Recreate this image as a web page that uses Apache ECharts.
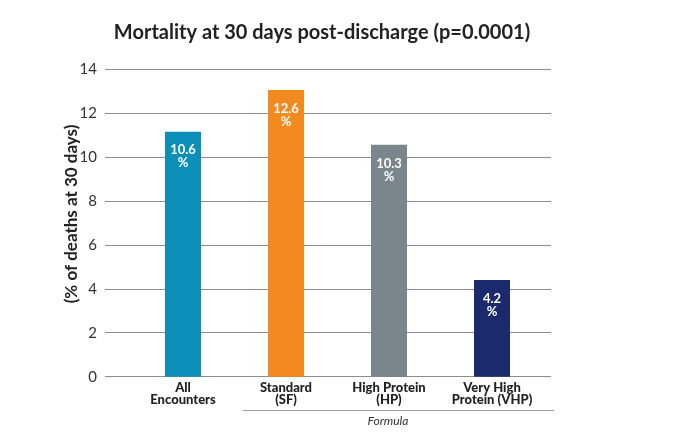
<!DOCTYPE html>
<html>
<head>
<meta charset="utf-8">
<script src="https://cdn.jsdelivr.net/npm/echarts@6/dist/echarts.min.js"></script>
<style>
  html, body { margin: 0; padding: 0; background: #fff; }
  #main { width: 675px; height: 436px; }
</style>
</head>
<body>
<div id="main"></div>
<script>
var categories = ['All\nEncounters', 'Standard\n(SF)', 'High Protein\n(HP)', 'Very High\nProtein (VHP)'];
// bar heights as drawn in the picture
var barHeights = [11.15, 13.05, 10.55, 4.4];
// values printed on the bars
var reported = [10.6, 12.6, 10.3, 4.2];
var barColors = ['#0b8fb9', '#f38a20', '#7a858c', '#1b2a6c'];
var yMin = 0, yMax = 14, yStep = 2;

var myChart = echarts.init(document.getElementById('main'));

var font = 'Lato, "Open Sans", sans-serif';

var option = {
    backgroundColor: '#fff',
    animation: false,
    title: {
        text: 'Mortality at 30 days post-discharge (p=0.0001)',
        left: 317,
        textAlign: 'center',
        top: 18,
        textStyle: { fontFamily: font, fontSize: 20, fontWeight: 'bold', color: '#222' }
    },
    grid: [
        { left: 131.5, right: 131.5, top: 69, bottom: 59.3 },
        { left: 105, right: 124, top: 69, bottom: 59.3 }
    ],
    xAxis: [
        {
            type: 'category',
            gridIndex: 0,
            data: categories,
            axisLine: { show: false },
            axisTick: { show: false },
            axisLabel: {
                interval: 0,
                hideOverlap: false,
                margin: 5,
                fontFamily: font, fontSize: 13, fontWeight: 900,
                color: '#222', lineHeight: 12
            }
        },
        {
            type: 'category',
            gridIndex: 1,
            data: [''],
            show: false
        }
    ],
    yAxis: [
        {
            type: 'value',
            gridIndex: 0,
            min: yMin, max: yMax, interval: yStep,
            show: false
        },
        {
            type: 'value',
            gridIndex: 1,
            min: yMin, max: yMax, interval: yStep,
            axisLine: { show: false },
            axisTick: { show: false },
            axisLabel: { margin: 8, fontFamily: font, fontSize: 15, color: '#333' },
            splitLine: { lineStyle: { color: '#8c8c8c', width: 1.2 } }
        }
    ],
    series: [
        {
            type: 'bar',
            xAxisIndex: 0,
            yAxisIndex: 0,
            barWidth: 36,
            data: barHeights.map(function (v, i) {
                return { value: v, itemStyle: { color: barColors[i] } };
            }),
            label: {
                show: true,
                position: 'insideTop',
                distance: 12,
                formatter: function (p) { return reported[p.dataIndex] + '\n%'; },
                fontFamily: font, fontSize: 13, fontWeight: 'bold',
                color: '#fff', lineHeight: 13
            }
        }
    ],
    graphic: [
        {
            type: 'text',
            x: 72, y: 214,
            rotation: Math.PI / 2,
            style: {
                text: '(% of deaths at 30 days)',
                font: 'bold 17px ' + font,
                fill: '#222',
                align: 'center',
                verticalAlign: 'middle'
            }
        },
        {
            type: 'line',
            shape: { x1: 243, y1: 410.5, x2: 554, y2: 410.5 },
            style: { stroke: '#999', lineWidth: 1.2 }
        },
        {
            type: 'text',
            x: 388, y: 421,
            style: {
                text: 'Formula',
                font: 'italic 12px ' + font,
                fill: '#333',
                align: 'center',
                verticalAlign: 'middle'
            }
        }
    ]
};

myChart.setOption(option);
</script>
</body>
</html>
